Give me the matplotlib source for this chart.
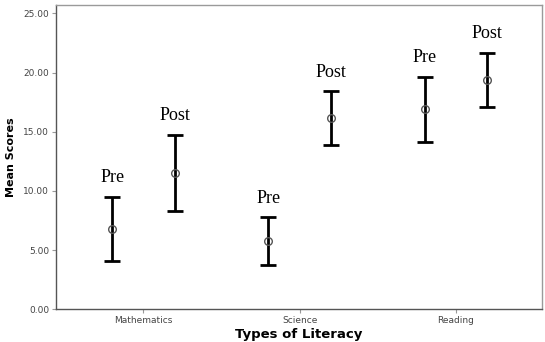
import matplotlib.pyplot as plt
import numpy as np

categories = ["Mathematics", "Science", "Reading"]
pre_mean = [6.76, 5.77, 16.89]
pre_low = [4.05, 3.72, 14.10]
pre_high = [9.48, 7.77, 19.65]
post_mean = [11.54, 16.18, 19.37]
post_low = [8.30, 13.90, 17.06]
post_high = [14.72, 18.41, 21.67]
yticks = [0, 5, 10, 15, 20, 25]

fig = plt.figure(figsize=(5.45, 3.42), dpi=100)
ax = fig.add_axes([56 / 545, 1 - 309.3 / 342, (541.7 - 56) / 545, (309.3 - 5.3) / 342])

x = np.arange(len(categories))
offset = 0.2
edge = "#9a9a9a"


def draw_group(xs, mean, low, high, label):
    mean = np.array(mean)
    err = [mean - np.array(low), np.array(high) - mean]
    ax.errorbar(xs, mean, yerr=err, fmt="none", ecolor="black",
                elinewidth=2.0, capsize=5.6, capthick=2.0, zorder=2)
    ax.plot(xs, mean, "o", mfc="none", mec="#555555", ms=5.5, mew=1.0, zorder=3)
    for xi, hi in zip(xs, high):
        ax.text(xi, hi + 0.9, label, ha="center", va="bottom",
                fontsize=13, family="Liberation Serif")


draw_group(x - offset, pre_mean, pre_low, pre_high, "Pre")
draw_group(x + offset, post_mean, post_low, post_high, "Post")

ax.set_xlim(-0.56, 2.55)
ax.set_ylim(0, 25.68)
ax.set_xticks(x)
ax.set_xticklabels(categories)
ax.set_yticks(yticks)
ax.set_yticklabels([f"{v:.2f}" for v in yticks])
ax.tick_params(axis="both", labelsize=6.5, colors="#444444", length=3,
               width=0.8, pad=2)
ax.tick_params(axis="both", color=edge)
for s in ax.spines.values():
    s.set_color(edge)
    s.set_linewidth(1.0)
ax.spines["left"].set_color("#555555")
ax.spines["bottom"].set_color("#555555")

ax.set_ylabel("Mean Scores", fontsize=8, fontweight="bold", labelpad=5)
ax.set_xlabel("Types of Literacy", fontsize=9.5, fontweight="bold", labelpad=2)

fig.savefig("out.png", dpi=100)
